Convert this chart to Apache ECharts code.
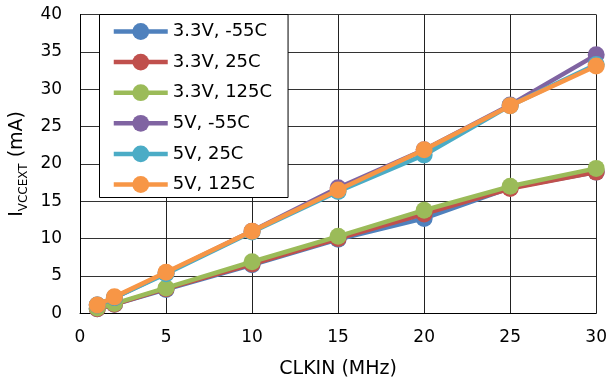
<!DOCTYPE html>
<html>
<head>
<meta charset="utf-8">
<script src="https://cdn.jsdelivr.net/npm/echarts@6/dist/echarts.min.js"></script>
<style>
  html, body { margin: 0; padding: 0; background: #fff; }
  #chart { width: 610px; height: 385px; }
</style>
</head>
<body>
<div id="chart"></div>
<script>
// Clock frequency (MHz) at which supply current was measured
const clkin = [1, 2, 5, 10, 15, 20, 25, 30];

// External supply current (mA) per supply voltage / temperature
const v33_m55 = [0.6, 1.2, 3.2, 6.5, 9.9, 12.7, 16.8, 18.9];
const v33_25 = [0.6, 1.2, 3.3, 6.6, 10.0, 13.3, 16.7, 18.9];
const v33_125 = [0.7, 1.3, 3.4, 6.9, 10.3, 13.8, 17.0, 19.4];
const v5_m55 = [1.1, 2.1, 5.4, 11.0, 16.8, 21.9, 27.9, 34.6];
const v5_25 = [1.1, 2.1, 5.3, 10.9, 16.3, 21.2, 27.8, 33.3];
const v5_125 = [1.1, 2.2, 5.5, 11.0, 16.5, 21.9, 27.8, 33.1];

const seriesNames = ['3.3V, -55C', '3.3V, 25C', '3.3V, 125C', '5V, -55C', '5V, 25C', '5V, 125C'];
const seriesValues = [v33_m55, v33_25, v33_125, v5_m55, v5_25, v5_125];
const colors = ['#4F81BD', '#C0504D', '#9BBB59', '#8064A2', '#4BACC6', '#F79646'];

const xTicks = [0, 30, 5];   // min, max, step
const yTicks = [0, 40, 5];

const FONT = 'DejaVu Sans';

const chart = echarts.init(document.getElementById('chart'), null, { renderer: 'canvas' });

chart.setOption({
  animation: false,
  color: colors,
  textStyle: { fontFamily: FONT, color: '#000' },
  grid: { left: 75.7, right: 13, top: 14.5, bottom: 71.7, containLabel: false },
  legend: {
    orient: 'vertical',
    left: 99.5,
    top: 14.5,
    itemWidth: 54,
    itemHeight: 21,
    itemGap: 12.6,
    padding: [8, 16, 4, 12],
    borderColor: '#000',
    borderWidth: 1,
    backgroundColor: '#fff',
    lineStyle: { width: 4.5 },
    textStyle: { fontFamily: FONT, fontSize: 18, color: '#000' },
    data: seriesNames
  },
  xAxis: {
    type: 'value',
    min: xTicks[0], max: xTicks[1], interval: xTicks[2],
    name: 'CLKIN (MHz)',
    nameLocation: 'middle',
    nameGap: 46,
    nameTextStyle: { fontFamily: FONT, fontSize: 19, color: '#000' },
    axisLine: { show: true, lineStyle: { color: '#000', width: 1 } },
    axisTick: { show: false },
    axisLabel: { fontFamily: FONT, fontSize: 17, color: '#000', margin: 16 },
    splitLine: { show: true, lineStyle: { color: '#222', width: 1 } }
  },
  yAxis: {
    type: 'value',
    min: yTicks[0], max: yTicks[1], interval: yTicks[2],
    name: '{i|I}{s|VCCEXT}{i| (mA)}',
    nameLocation: 'middle',
    nameGap: 40,
    nameRotate: 90,
    nameTextStyle: {
      fontFamily: FONT,
      color: '#000',
      rich: {
        i: { fontFamily: FONT, fontSize: 19, lineHeight: 24, color: '#000' },
        s: { fontFamily: FONT, fontSize: 12, lineHeight: 24, verticalAlign: 'bottom', padding: [8, 0, 0, 0], color: '#000' }
      }
    },
    axisLine: { show: true, lineStyle: { color: '#000', width: 1 } },
    axisTick: { show: false },
    axisLabel: { fontFamily: FONT, fontSize: 17, color: '#000', margin: 18 },
    splitLine: { show: true, lineStyle: { color: '#333', width: 1 } }
  },
  series: seriesNames.map((name, i) => ({
    name: name,
    type: 'line',
    data: clkin.map((x, k) => [x, seriesValues[i][k]]),
    symbol: 'circle',
    symbolSize: 17,
    showSymbol: true,
    lineStyle: { width: 4.5, color: colors[i] },
    itemStyle: { color: colors[i] },
    z: 2 + i,
    emphasis: { disabled: true }
  }))
});
</script>
</body>
</html>
